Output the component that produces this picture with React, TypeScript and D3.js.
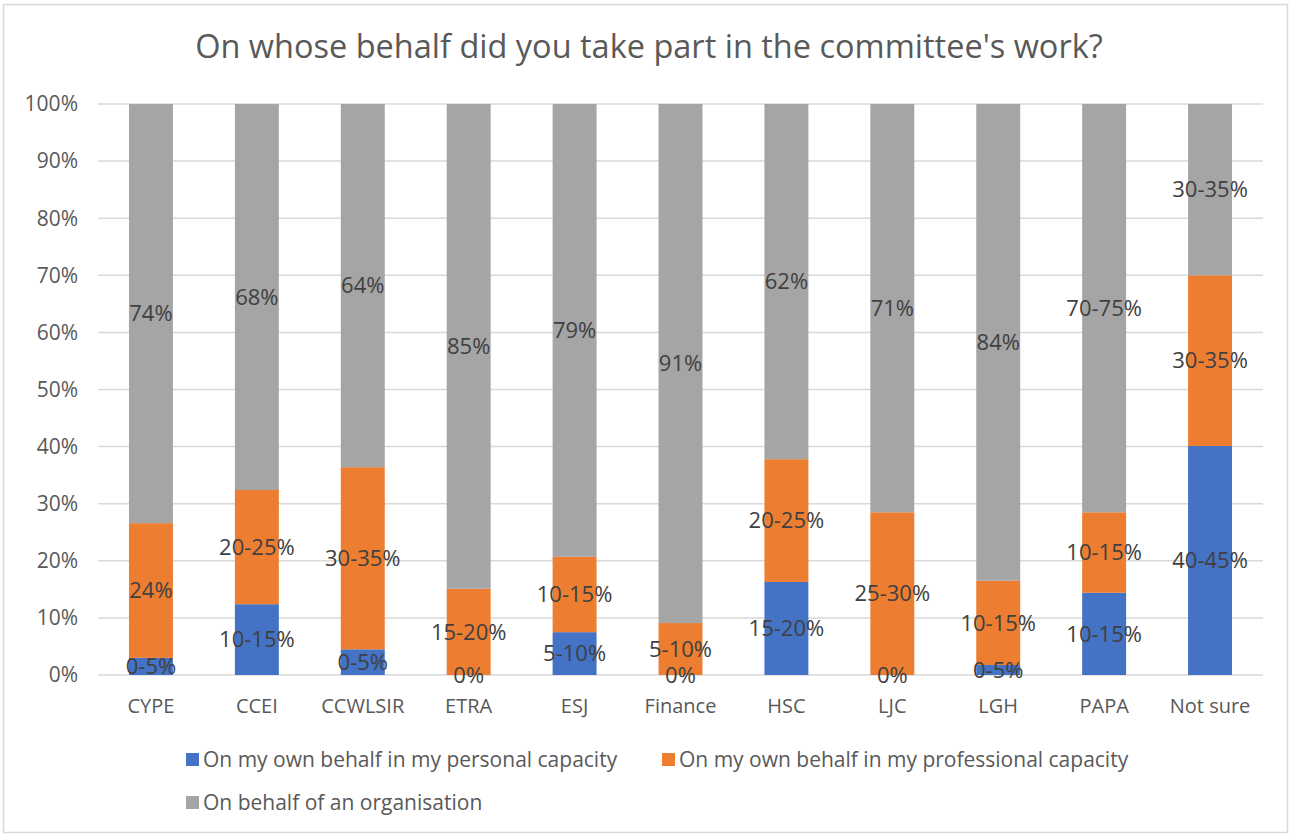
import React from "react";
import * as d3 from "d3";

const categories = ["CYPE", "CCEI", "CCWLSIR", "ETRA", "ESJ", "Finance", "HSC", "LJC", "LGH", "PAPA", "Not sure"];
const personal = [0.03, 0.124, 0.045, 0, 0.075, 0, 0.163, 0, 0.0175, 0.144, 0.401];
const professional = [0.236, 0.2, 0.319, 0.151, 0.132, 0.091, 0.215, 0.285, 0.1475, 0.141, 0.299];
const organisation = [0.734, 0.676, 0.636, 0.849, 0.793, 0.909, 0.622, 0.715, 0.835, 0.715, 0.3];
const personalLabels = ["0-5%", "10-15%", "0-5%", "0%", "5-10%", "0%", "15-20%", "0%", "0-5%", "10-15%", "40-45%"];
const professionalLabels = ["24%", "20-25%", "30-35%", "15-20%", "10-15%", "5-10%", "20-25%", "25-30%", "10-15%", "10-15%", "30-35%"];
const organisationLabels = ["74%", "68%", "64%", "85%", "79%", "91%", "62%", "71%", "84%", "70-75%", "30-35%"];
const seriesNames = [
  "On my own behalf in my personal capacity",
  "On my own behalf in my professional capacity",
  "On behalf of an organisation",
];
const yTicks = [0, 0.1, 0.2, 0.3, 0.4, 0.5, 0.6, 0.7, 0.8, 0.9, 1.0];
const colors = ["#4472C4", "#ED7D31", "#A5A5A5"];

const W = 1291;
const H = 837;
const FONT = "'Open Sans', sans-serif";

export default function App() {
  const x = d3.scaleBand<string>().domain(categories).range([98, 1263]).paddingInner(0.585).paddingOuter(0.2925);
  const y = d3.scaleLinear().domain([0, 1]).range([675, 104]);
  const fmt = d3.format(".0%");

  const rows = categories.map((c, i) => ({ cat: c, personal: personal[i], professional: professional[i], organisation: organisation[i] }));
  const stack = d3.stack<any>().keys(["personal", "professional", "organisation"]);
  const series = stack(rows);
  const labelSets = [personalLabels, professionalLabels, organisationLabels];

  const legendItems = [
    { name: seriesNames[0], x: 186, y: 760, color: colors[0] },
    { name: seriesNames[1], x: 662, y: 760, color: colors[1] },
    { name: seriesNames[2], x: 186, y: 803, color: colors[2] },
  ];

  return (
    <div style={{ position: "absolute", left: 0, top: 0 }}>
      <svg width={W} height={H} style={{ display: "block", fontFamily: FONT }}>
        <rect x={0} y={0} width={W} height={H} fill="#ffffff" />
        <rect x={3.5} y={4.5} width={W - 7} height={H - 9} fill="none" stroke="#D9D9D9" strokeWidth={1.5} />
        <text x={649} y={47} dy="0.35em" textAnchor="middle" fontSize={32.5} fill="#595959">
          On whose behalf did you take part in the committee's work?
        </text>
        {yTicks.map((t) => (
          <g key={t}>
            <line x1={98} x2={1263} y1={y(t)} y2={y(t)} stroke="#D9D9D9" strokeWidth={1.5} />
            <text x={78} y={y(t)} dy="0.35em" textAnchor="end" fontSize={21} fill="#595959">
              {fmt(t)}
            </text>
          </g>
        ))}
        {series.map((s, si) => (
          <g key={si}>
            {s.map((d, i) => (
              <rect
                key={i}
                x={x(categories[i])}
                width={x.bandwidth()}
                y={y(d[1])}
                height={Math.max(0, y(d[0]) - y(d[1]))}
                fill={colors[si]}
              />
            ))}
          </g>
        ))}
        {series.map((s, si) => (
          <g key={"l" + si}>
            {s.map((d, i) => (
              <text
                key={i}
                x={(x(categories[i]) as number) + x.bandwidth() / 2}
                y={(y(d[0]) + y(d[1])) / 2}
                dy="0.35em"
                textAnchor="middle"
                fontSize={22}
                fill="#404040"
              >
                {labelSets[si][i]}
              </text>
            ))}
          </g>
        ))}
        {categories.map((c) => (
          <text
            key={c}
            x={(x(c) as number) + x.bandwidth() / 2}
            y={706}
            dy="0.35em"
            textAnchor="middle"
            fontSize={20}
            fill="#595959"
          >
            {c}
          </text>
        ))}
        {legendItems.map((l) => (
          <g key={l.name}>
            <rect x={l.x} y={l.y - 7} width={13} height={13} fill={l.color} />
            <text x={l.x + 17} y={l.y} dy="0.35em" fontSize={21} fill="#595959">
              {l.name}
            </text>
          </g>
        ))}
      </svg>
    </div>
  );
}
